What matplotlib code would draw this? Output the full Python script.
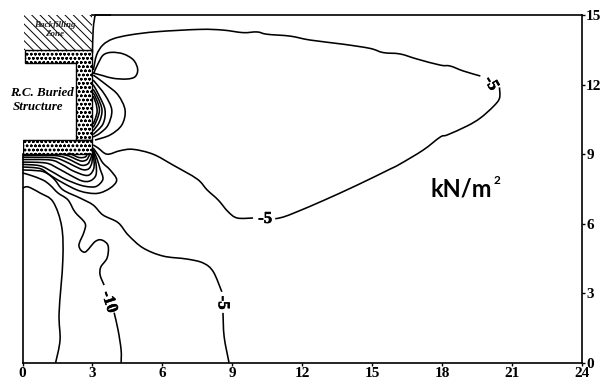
import matplotlib
matplotlib.use("Agg")
import matplotlib.pyplot as plt
import matplotlib.patheffects as pe
from matplotlib.patches import Polygon, PathPatch
from matplotlib.path import Path

# contour lines, x and y in metres
upper_a_x = [3.04, 3.18, 3.45, 3.88, 4.61, 5.77, 7.62, 8.6, 9.46, 10.06, 10.49, 11.48, 12.34, 13.76, 14.91, 15.47, 16.2, 16.93, 17.92, 18.35, 18.9, 19.64]
upper_a_y = [12.63, 13.28, 13.71, 13.97, 14.14, 14.28, 14.38, 14.35, 14.24, 14.27, 14.17, 14.09, 13.92, 13.74, 13.56, 13.38, 13.32, 13.1, 12.84, 12.8, 12.59, 12.37]
upper_b_x = [20.46, 20.46, 20.19, 19.64, 19.08, 18.22, 17.92, 17.19, 16.2, 15.77, 14.36, 12.9, 11.78, 11.18, 10.84]
upper_b_y = [11.88, 11.41, 11.05, 10.56, 10.22, 9.83, 9.74, 9.18, 8.58, 8.36, 7.67, 7.0, 6.52, 6.29, 6.22]
upper_c_x = [9.89, 9.21, 8.82, 8.39, 7.92, 7.49, 6.46, 5.6, 4.74, 4.18, 3.63, 3.24, 3.03]
upper_c_y = [6.25, 6.25, 6.52, 7.03, 7.46, 7.93, 8.53, 9.0, 9.21, 9.15, 9.0, 9.27, 9.4]
lobe_x = [3.04, 3.25, 3.47, 3.83, 4.33, 4.76, 4.94, 4.83, 4.47, 3.9, 3.47, 3.07]
lobe_y = [12.46, 12.92, 13.28, 13.39, 13.32, 13.06, 12.66, 12.34, 12.24, 12.27, 12.38, 12.49]
top_x = [3.8, 3.2, 3.12, 3.08, 3.03, 3.0]
top_y = [15.0, 15.0, 14.98, 14.78, 14.35, 13.36]

# nested lobes against the wall
wall_1 = ([3.04, 3.61, 4.1, 4.4, 4.26, 3.76, 3.11], [12.41, 11.98, 11.55, 10.9, 10.26, 9.83, 9.61])
wall_2 = ([3.03, 3.54, 3.83, 3.67, 3.33, 3.03], [12.2, 11.55, 10.9, 10.26, 9.91, 9.74])
wall_3 = ([3.03, 3.3, 3.54, 3.45, 3.03], [12.0, 11.5, 10.9, 10.3, 9.85])
wall_4 = ([3.03, 3.25, 3.41, 3.3, 3.03], [11.8, 11.4, 10.9, 10.4, 10.0])
wall_5 = ([3.03, 3.2, 3.3, 3.2, 3.03], [11.65, 11.3, 10.9, 10.5, 10.15])
wall_6 = ([3.03, 3.15, 3.2, 3.13, 3.03], [11.5, 11.2, 10.85, 10.55, 10.3])

# lines under the slab
slab_1 = ([0, 0.75, 1.18, 1.74, 2.47, 3.2, 3.76, 4.04, 3.76, 3.45, 3.24, 3.03], [8.45, 8.38, 8.1, 7.76, 7.41, 7.31, 7.54, 7.89, 8.32, 8.62, 8.97, 9.27])
slab_2 = ([0, 0.75, 1.26, 1.82, 2.47, 2.9, 3.2, 3.45, 3.33, 3.2, 3.03], [8.56, 8.5, 8.25, 7.93, 7.67, 7.59, 7.63, 7.93, 8.36, 8.79, 9.2])
slab_3 = ([0, 1.0, 1.5, 2.04, 2.55, 2.9, 3.15, 3.15, 3.03], [8.66, 8.62, 8.4, 8.1, 7.85, 7.85, 8.1, 8.62, 9.16])
slab_4 = ([0, 1.2, 1.7, 2.13, 2.64, 2.9, 3.07, 3.03], [8.77, 8.75, 8.55, 8.3, 8.1, 8.13, 8.45, 9.1])
slab_5 = ([0, 1.3, 1.8, 2.2, 2.6, 2.85, 2.98, 3.0], [8.87, 8.85, 8.7, 8.5, 8.33, 8.38, 8.65, 9.05])
slab_6 = ([0, 1.4, 1.9, 2.25, 2.55, 2.8, 2.92, 2.98], [8.95, 8.94, 8.82, 8.65, 8.52, 8.58, 8.8, 9.0])
slab_7 = ([1.6, 2.0, 2.3, 2.55, 2.75, 2.85, 2.9], [9.02, 8.92, 8.78, 8.7, 8.76, 8.92, 9.05])
slab_8 = ([2.0, 2.35, 2.55, 2.72, 2.78], [9.05, 8.88, 8.85, 8.9, 9.05])

# long lines down to the bottom
far_left_x = [0.01, 0.24, 0.75, 1.31, 1.68, 1.73, 1.57, 1.61, 1.42]
far_left_y = [7.54, 7.59, 7.33, 6.95, 5.88, 4.44, 2.16, 0.99, 0.01]
minus10_a_x = [0, 0.32, 0.87, 1.18, 1.52, 1.95, 2.25, 2.68, 2.64, 2.42, 2.68, 3.11, 3.4, 3.67, 3.63, 3.36, 3.33, 3.5]
minus10_a_y = [8.19, 8.1, 7.89, 7.67, 7.33, 7.03, 6.51, 6.03, 5.65, 5.06, 4.78, 5.23, 5.3, 5.06, 4.53, 4.14, 3.79, 3.36]
minus10_b_x = [3.93, 4.1, 4.23, 4.23]
minus10_b_y = [2.17, 1.42, 0.56, 0.01]
minus5_a_x = [0, 0.75, 1.09, 1.39, 1.74, 2.47, 3.03, 3.45, 4.1, 4.53, 5.17, 6.03, 7.06, 7.75, 8.18, 8.55]
minus5_a_y = [8.32, 8.28, 8.15, 7.89, 7.46, 7.11, 6.81, 6.38, 6.05, 5.52, 4.96, 4.61, 4.48, 4.31, 3.94, 3.07]
minus5_b_x = [8.6, 8.65, 8.86]
minus5_b_y = [2.16, 1.13, 0.01]

x_ticks = [0, 3, 6, 9, 12, 15, 18, 21, 24]
y_ticks = [0, 3, 6, 9, 12, 15]

contour_labels = ["-5", "-5", "-10", "-5"]
label_x = [20.1, 10.41, 3.71, 8.59]
label_y = [12.05, 6.21, 2.63, 2.6]
label_rot = [-60, 0, -72, -90]


def smooth_path(xs, ys):
    # catmull-rom handles so the drawn line has no corners at the read points
    pts = list(zip(xs, ys))
    verts = [pts[0]]
    codes = [Path.MOVETO]
    for i in range(len(pts) - 1):
        p0 = pts[max(i - 1, 0)]
        p1 = pts[i]
        p2 = pts[i + 1]
        p3 = pts[min(i + 2, len(pts) - 1)]
        c1 = (p1[0] + (p2[0] - p0[0]) / 6, p1[1] + (p2[1] - p0[1]) / 6)
        c2 = (p2[0] - (p3[0] - p1[0]) / 6, p2[1] - (p3[1] - p1[1]) / 6)
        verts += [c1, c2, p2]
        codes += [Path.CURVE4] * 3
    return Path(verts, codes)


heavy = [pe.withStroke(linewidth=0.4, foreground="black")]

plt.rcParams["hatch.linewidth"] = 0.7
fig = plt.figure(figsize=(6.01, 3.83), dpi=100)
ax = fig.add_axes([22.5 / 601, 20 / 383, 559.5 / 601, 348 / 383])

# structure and backfill
ax.add_patch(Polygon([(0.08, 13.5), (2.97, 13.5), (2.97, 15), (0.08, 15)], facecolor="white", edgecolor="black", lw=0, hatch="\\\\\\\\"))
concrete = [(0.11, 13.5), (2.97, 13.5), (2.97, 9.6), (0, 9.6), (0, 9.03), (2.97, 9.03), (2.97, 9.6), (2.3, 9.6), (2.3, 12.92), (0.11, 12.92)]
ax.add_patch(Polygon(concrete, facecolor="white", edgecolor="black", lw=1.0, hatch="oooo", zorder=2))

segments = [(upper_a_x, upper_a_y), (upper_b_x, upper_b_y), (upper_c_x, upper_c_y), (lobe_x, lobe_y), (top_x, top_y),
            wall_1, wall_2, wall_3, wall_4, wall_5, wall_6,
            slab_1, slab_2, slab_3, slab_4, slab_5, slab_6, slab_7, slab_8,
            (far_left_x, far_left_y), (minus10_a_x, minus10_a_y), (minus10_b_x, minus10_b_y),
            (minus5_a_x, minus5_a_y), (minus5_b_x, minus5_b_y)]
for xs, ys in segments:
    ax.add_patch(PathPatch(smooth_path(xs, ys), fill=False, edgecolor="black", lw=1.15, clip_on=False, zorder=3))

for s, x, y, r in zip(contour_labels, label_x, label_y, label_rot):
    ax.text(x, y, s, rotation=r, ha="center", va="center", family="Liberation Serif", weight="bold", fontsize=12,
            zorder=4, path_effects=heavy)

ax.text(1.39, 14.38, "Backfilling\nZone", ha="center", va="center", family="Liberation Serif", style="italic",
        weight="bold", fontsize=6.5, linespacing=1.15, color="#222222", zorder=4)
ax.text(-0.54, 11.64, "R.C. Buried", ha="left", va="center", family="Liberation Serif", style="italic", weight="bold", fontsize=9.4)
ax.text(-0.41, 11.03, "Structure", ha="left", va="center", family="Liberation Serif", style="italic", weight="bold", fontsize=9.4)
ax.text(17.5, 7.16, "kN/m", ha="left", va="baseline", family="Lato", weight="bold", fontsize=17)
ax.text(20.2, 7.73, "2", ha="left", va="baseline", family="Lato", weight="bold", fontsize=8.5)

ax.set_xlim(0, 24)
ax.set_ylim(0, 15)
ax.set_xticks(x_ticks)
ax.set_yticks(y_ticks)
ax.yaxis.tick_right()
ax.tick_params(length=2.5, width=1.0, pad=0.5, labelsize=11)
for t in ax.get_xticklabels() + ax.get_yticklabels():
    t.set_family("Liberation Serif")
    t.set_weight("bold")
for name in ax.spines:
    ax.spines[name].set_linewidth(1.2)
ax.spines["left"].set_bounds(0, 9.03)
ax.spines["top"].set_bounds(3, 24)

fig.savefig("out.png", dpi=100)
